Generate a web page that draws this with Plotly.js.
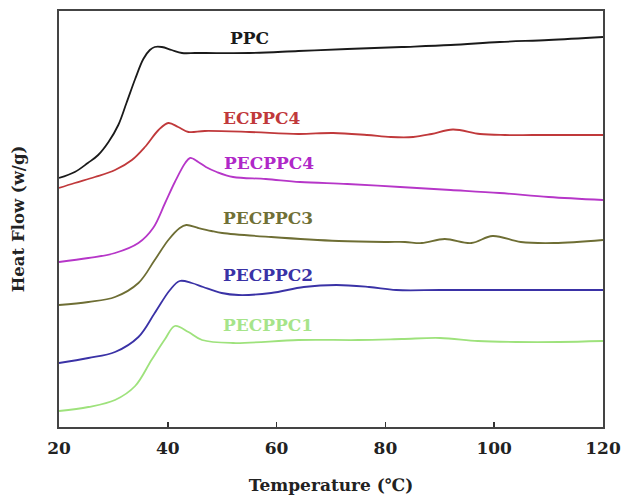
<!DOCTYPE html>
<html>
<head>
<meta charset="utf-8">
<script src="https://cdn.plot.ly/plotly-3.0.1.min.js"></script>
<style>html,body{margin:0;padding:0;background:#fff;}#chart{width:622px;height:498px;}</style>
</head>
<body>
<div id="chart"></div>
<script>
// Temperature (°C) and heat flow (arbitrary, offset) for each curve
var ppcT = [20, 22.9, 25.3, 27.2, 29.1, 30.9, 32.4, 34.0, 35.5, 36.7, 37.6, 38.9, 40.7, 42.6, 45.0, 47, 55, 64, 73, 83, 92, 101, 110, 120];
var ppcV = [249, 255, 264, 272, 285, 302, 324, 348, 368, 377, 380, 380, 377, 374, 374, 374, 374, 376, 378, 380, 382, 385, 387, 390];

var ecppc4T = [20, 22.9, 26.6, 30.3, 33.4, 35.8, 38.3, 40.1, 41.9, 43.8, 46.8, 55, 64, 70.4, 76.6, 81, 85.1, 88.5, 92.4, 97.4, 102, 107, 113, 120];
var ecppc4V = [239, 244, 250, 257, 267, 280, 297, 304, 300, 295, 296, 295, 293, 294, 292, 290, 290, 293, 297.5, 293, 292, 292, 292, 292];

var pecppc4T = [20, 25.4, 30.3, 34.6, 37.3, 39.5, 41.3, 43.2, 44.1, 45.6, 47, 49, 52, 58, 64.3, 73, 82.7, 92, 101, 110, 120];
var pecppc4V = [165, 169, 174, 184, 199, 224, 245, 264, 269, 265, 260, 255, 250, 248, 245, 243, 240, 237, 234, 230, 227];

var pecppc3T = [20, 25.4, 30.3, 34.6, 37.6, 40.1, 42.2, 43.4, 45.6, 48, 50, 59, 71.4, 80, 83.6, 86.7, 90.9, 95.8, 99.7, 104.9, 111, 120];
var pecppc3V = [122, 125, 130, 144, 167, 187, 199, 202, 199, 196, 194, 190, 186, 185, 185, 184, 188, 184, 191, 185, 184, 187];

var pecppc2T = [20, 25.4, 30.3, 34.6, 37.6, 40.4, 42.2, 44.4, 46.5, 49.9, 53, 59, 65, 71, 77, 82, 90, 100, 110, 120];
var pecppc2V = [64, 69, 75, 90, 114, 137, 146, 144, 140, 134, 132, 134, 140, 142, 140, 137, 137, 137, 137, 137];

var pecppc1T = [20, 25.4, 30.3, 34, 37, 39.5, 41.3, 43.8, 46.3, 52, 64, 75, 83, 90, 97, 104, 112, 120];
var pecppc1V = [16, 20, 27, 41, 67, 88, 101, 95, 87, 84, 87, 87, 88, 89, 86, 85, 85, 86];

var seriesNames = ["PPC", "ECPPC4", "PECPPC4", "PECPPC3", "PECPPC2", "PECPPC1"];
var labelT = [55.1, 57.3, 58.6, 58.4, 58.4, 58.4];
var labelV = [389, 309, 264, 209, 152, 102];
var xTicks = [20, 40, 60, 80, 100, 120];

var lineColors = ["#1a1a1a", "#c0393b", "#b636c8", "#6e6e34", "#3a32a6", "#9ee27c"];
var labelColors = ["#1a1a1a", "#c0393b", "#b028c8", "#707036", "#3a32a6", "#a6e48a"];

var xs = [ppcT, ecppc4T, pecppc4T, pecppc3T, pecppc2T, pecppc1T];
var ys = [ppcV, ecppc4V, pecppc4V, pecppc3V, pecppc2V, pecppc1V];

var traces = seriesNames.map(function(n, i) {
  return {
    x: xs[i], y: ys[i], name: n, type: "scatter", mode: "lines",
    line: {color: lineColors[i], width: 1.8, shape: "spline", smoothing: 1.0},
    showlegend: false, hoverinfo: "skip"
  };
});

var annotations = seriesNames.map(function(n, i) {
  return {
    x: labelT[i], y: labelV[i], xref: "x", yref: "y", text: n, showarrow: false,
    font: {family: "DejaVu Serif", size: 17, color: labelColors[i], weight: "bold"}
  };
});

var fontFam = "DejaVu Serif";
var layout = {
  width: 622, height: 498,
  margin: {l: 59, r: 19, t: 11, b: 71},
  paper_bgcolor: "#ffffff", plot_bgcolor: "#ffffff",
  showlegend: false,
  xaxis: {
    range: [20, 120], tickvals: xTicks, ticktext: xTicks.map(String),
    ticks: "inside", ticklen: 5, tickwidth: 1.5, tickcolor: "#333",
    showline: true, linecolor: "#444", linewidth: 2, mirror: true,
    showgrid: false, zeroline: false,
    tickfont: {family: fontFam, size: 17, color: "#222", weight: "bold"},
    ticklabelstandoff: 5,
    title: {text: "Temperature (℃)", standoff: 22, font: {family: fontFam, size: 17, color: "#222", weight: "bold"}}
  },
  yaxis: {
    range: [0, 416], showticklabels: false, ticks: "",
    showline: true, linecolor: "#444", linewidth: 2, mirror: true,
    showgrid: false, zeroline: false,
    title: {text: "Heat Flow (w/g)", standoff: 28, font: {family: fontFam, size: 16.5, color: "#222", weight: "bold"}}
  },
  annotations: annotations
};

Plotly.newPlot("chart", traces, layout, {displayModeBar: false, staticPlot: true});
</script>
</body>
</html>
